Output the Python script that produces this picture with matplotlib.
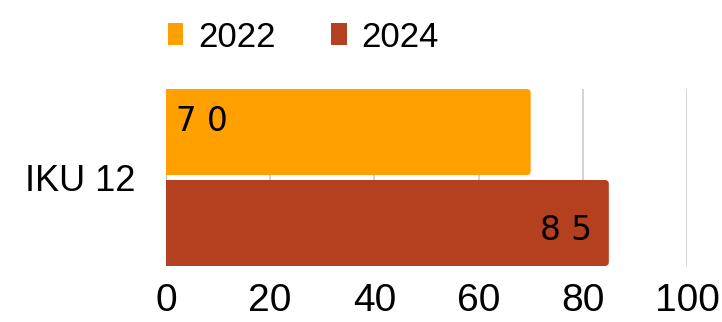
import matplotlib.pyplot as plt
from matplotlib.patches import FancyBboxPatch, Patch

# data
category = "IKU 12"
years = ["2022", "2024"]
values = [70, 85]
colors = ["#FFA000", "#B5401F"]

plt.rcParams['font.family'] = ['Liberation Sans', 'DejaVu Sans']

fig = plt.figure(figsize=(7.22, 3.22), dpi=100)
ax = fig.add_axes([0.2299, 0.1739, 0.7216, 0.5497])

bar_h = 0.486
centers = [0.257, -0.257]

ax.set_xlim(0, 100)
ax.set_ylim(-0.5, 0.5)

# rounded bars (right side rounded; left side clipped by the axes)
px_x = 100 / (0.7216 * 722)
px_y = 1.0 / (0.5497 * 322)
rx = 4 * px_x
aspect = px_y / px_x
for v, c, yc in zip(values, colors, centers):
    patch = FancyBboxPatch((-5, yc - bar_h / 2), v + 5, bar_h,
                           boxstyle=f"round,pad=0,rounding_size={rx}",
                           mutation_aspect=aspect, facecolor=c,
                           edgecolor="none", zorder=2)
    ax.add_patch(patch)

# value labels, digits spaced out
lab_font = dict(family=['DejaVu Sans'], fontsize=23.5, color='black')
ax.text(2, centers[0] + 0.06, " ".join(str(values[0])), ha='left', va='center',
        zorder=3, **lab_font)
ax.text(values[1] - 3.2, centers[1] - 0.045, " ".join(str(values[1])), ha='right',
        va='center', zorder=3, **lab_font)

ax.set_xticks([0, 20, 40, 60, 80, 100])
ax.set_yticks([0])
ax.set_yticklabels([category])
ax.tick_params(axis='x', labelsize=28, length=0, pad=12)
ax.tick_params(axis='y', labelsize=26, length=0, pad=22)
ax.grid(axis='x', color='#cccccc', linewidth=1.2, zorder=0)
ax.set_axisbelow(True)
for s in ax.spines.values():
    s.set_visible(False)
ax.axvline(0, color='#bbbbbb', linewidth=1.2, zorder=1)

handles = [Patch(facecolor=c, edgecolor='none') for c in colors]
fig.legend(handles, years, loc='center', bbox_to_anchor=(0.42, 0.885),
           ncol=2, frameon=False, fontsize=25, handlelength=0.45, handleheight=0.6,
           handletextpad=0.42, columnspacing=1.6, borderpad=0)

fig.savefig("out.png", dpi=100)
